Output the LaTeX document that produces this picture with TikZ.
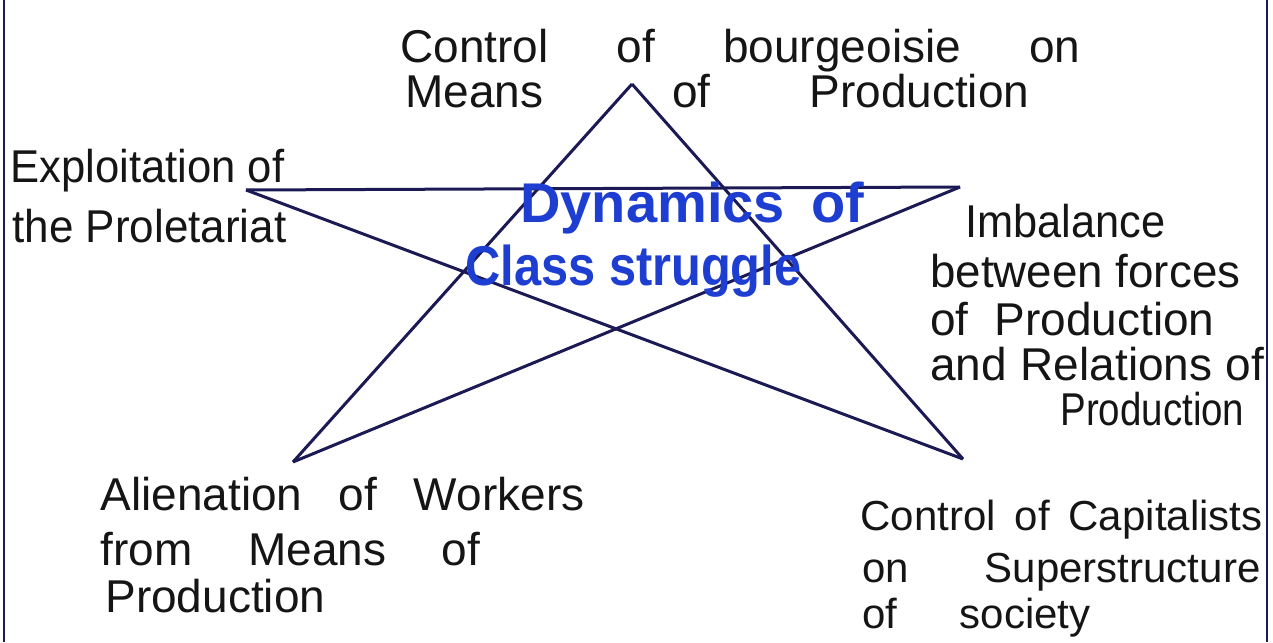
\documentclass[tikz,border=0pt]{standalone}
\usepackage{fontspec}
\usepackage{graphicx}
\setmainfont{Liberation Sans}
\definecolor{inkblack}{HTML}{151515}
\definecolor{navy}{HTML}{1C1A55}
\definecolor{penblue}{HTML}{1E3ED2}
\newlength\natw
\newcommand\spreadto[2]{\settowidth\natw{#2}\ifdim\natw>#1\relax\resizebox{#1}{\height}{#2}\else\makebox[#1][s]{#2}\fi}
\tikzset{
  lbl/.style={inner sep=0pt, anchor=base west, text=inkblack, font=\fontsize{23}{26}\selectfont},
  lblsm/.style={lbl, font=\fontsize{21}{24}\selectfont},
  ctr/.style={inner sep=0pt, anchor=base west, text=penblue, font=\fontsize{28}{30}\selectfont\bfseries},
  edge/.style={draw=navy, line width=1.5pt, line join=miter},
  frame/.style={draw=navy, line width=1.1pt}
}
\begin{document}
\begin{tikzpicture}[x=0.5pt,y=-0.5pt]
\useasboundingbox (0,0) rectangle (1273,642);
% frame
\coordinate (fl1) at (4,0); \coordinate (fl2) at (4,642);
\coordinate (fr1) at (1267,0); \coordinate (fr2) at (1267,642);
\draw[frame] (fl1) -- (fl2);
\draw[frame] (fr1) -- (fr2);
% star
\coordinate (T) at (632,84);
\coordinate (L) at (246,190);
\coordinate (R) at (960,187);
\coordinate (BL) at (293,462);
\coordinate (BR) at (963,459);
\draw[edge] (T) -- (BL);
\draw[edge] (T) -- (BR);
\draw[edge] (L) -- (R);
\draw[edge] (L) -- (BR);
\draw[edge] (R) -- (BL);
% top label
\node[lbl] (t1) at (400,63) {\spreadto{340pt}{Control of bourgeoisie on}};
\node[lbl] (t2) at (405,108) {\spreadto{312pt}{Means \hspace{30pt} of \hspace{15pt} Production}};
% left label
\node[lbl] (l1) at (10,182) {\spreadto{137pt}{Exploitation of}};
\node[lbl] (l2) at (12,242) {\spreadto{137pt}{the Proletariat}};
% right label
\node[lbl] (r1) at (965,237) {\spreadto{100pt}{Imbalance}};
\node[lbl] (r2) at (930,287) {\spreadto{155pt}{between forces}};
\node[lbl] (r3) at (930,335) {\spreadto{142pt}{of Production}};
\node[lbl] (r4) at (930,380) {\spreadto{167pt}{and Relations of}};
\node[lbl] (r5) at (1060,425) {\spreadto{92pt}{Production}};
% centre
\node[ctr] (c1) at (520,222) {\spreadto{172pt}{Dynamics of}};
\node[ctr] (c2) at (465,285) {\spreadto{168pt}{Class struggle}};
% bottom left
\node[lbl] (bl1) at (100,510) {\spreadto{242pt}{Alienation of Workers}};
\node[lbl] (bl2) at (100,565) {\spreadto{190pt}{from Means of}};
\node[lbl] (bl3) at (105,612) {\spreadto{117pt}{Production}};
% bottom right
\node[lblsm] (br1) at (860,530) {\spreadto{201pt}{Control of Capitalists}};
\node[lblsm] (br2) at (862,582) {\spreadto{199pt}{on Superstructure}};
\node[lblsm] (br3) at (862,628) {\spreadto{114pt}{of society}};
\end{tikzpicture}
\end{document}
